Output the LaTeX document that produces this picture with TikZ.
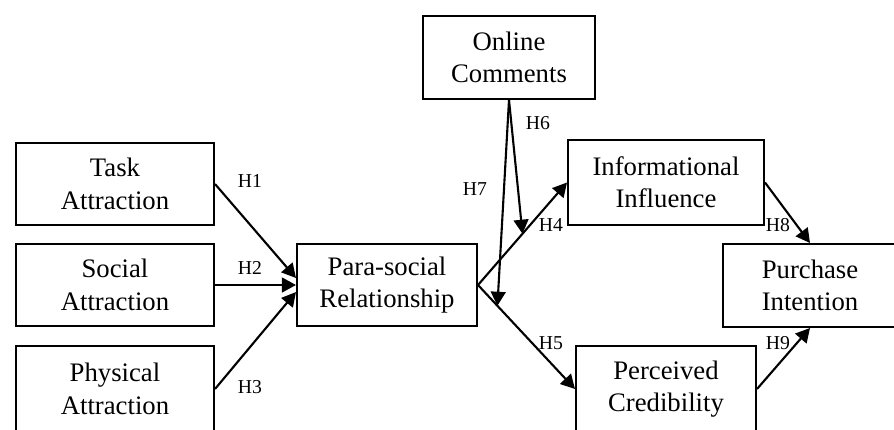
\documentclass[tikz,border=0pt]{standalone}
\usepackage{fontspec}
\setmainfont{Liberation Serif}
\usetikzlibrary{arrows.meta,calc}

\begin{document}
\begin{tikzpicture}[x=0.025cm,y=-0.025cm,
  box/.style={draw,line width=1.4pt,align=center,inner sep=0pt,font=\fontsize{19}{23}\selectfont},
  hyp/.style={line width=1.5pt,-{Triangle[length=10pt,width=10.5pt]}},
  lab/.style={font=\fontsize{14}{16}\selectfont,inner sep=0pt}]
\useasboundingbox (0,0) rectangle (894,429);

%antecedents
\node[box,minimum width=4.95cm,minimum height=2.05cm] (task) at (115,184) {Task\\Attraction};
\node[box,minimum width=4.95cm,minimum height=2.05cm] (social) at (115,285) {Social\\Attraction};
\node[box,minimum width=4.95cm,minimum height=2.15cm] (phys) at (115,389) {Physical\\Attraction};

%mediator and moderator
\node[box,minimum width=4.5cm,minimum height=2.05cm] (para) at (387,285) {Para-social\\Relationship};
\node[box,minimum width=4.3cm,minimum height=2.075cm] (online) at (509,57.5) {Online\\Comments};

%outcomes
\node[box,minimum width=4.9cm,minimum height=2.125cm] (info) at (666,182.5) {Informational\\Influence};
\node[box,minimum width=4.5cm,minimum height=2.15cm] (cred) at (666,389) {Perceived\\Credibility};
\node[box,minimum width=4.35cm,minimum height=2.075cm] (purch) at (810,285.5) {Purchase\\Intention};

%paths
\draw[hyp] (task.east) -- ([yshift=5pt]para.west);
\draw[hyp] (social.east) -- (para.west);
\draw[hyp] (phys.east) -- ([yshift=-5pt]para.west);

\draw[hyp] (para.east) -- (info.west);
\draw[hyp] (para.east) -- (cred.west);

\coordinate (m6) at ($(para.east)!0.5!(info.west)$);
\coordinate (m7) at ($(para.east)!0.2!(cred.west)$);
\draw[hyp] (online.south) -- (m6);
\draw[hyp] (online.south) -- (m7);

\draw[hyp] (info.east) -- (purch.north);
\draw[hyp] (cred.east) -- (purch.south);

%labels
\node[lab] (h1) at (250,181) {H1};
\node[lab] (h2) at (250,268) {H2};
\node[lab] (h3) at (250,387) {H3};
\node[lab] (h4) at (551,225) {H4};
\node[lab] (h5) at (551,343) {H5};
\node[lab] (h6) at (538,123) {H6};
\node[lab] (h7) at (475,189) {H7};
\node[lab] (h8) at (778,225) {H8};
\node[lab] (h9) at (778,343) {H9};

\end{tikzpicture}
\end{document}
